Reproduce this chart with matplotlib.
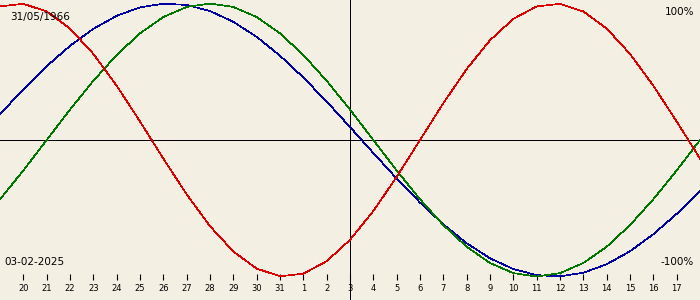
import matplotlib
matplotlib.use("Agg")
import matplotlib.pyplot as plt

# biorhythm for birth 31/05/1966, centred on 03-02-2025 (Jan 19 .. Feb 18)
birth_label = "31/05/1966"
date_label = "03-02-2025"

day_index = list(range(31))
tick_pos = list(range(1, 30))
tick_labels = [str(d) for d in range(20, 32)] + [str(d) for d in range(1, 18)]

physical = [97.9, 99.8, 94.2, 81.7, 63.1, 39.8, 13.6, -13.6, -39.8, -63.1,
            -81.7, -94.2, -99.8, -97.9, -88.8, -73.1, -52.0, -27.0, 0.0, 27.0,
            52.0, 73.1, 88.8, 97.9, 99.8, 94.2, 81.7, 63.1, 39.8, 13.6, -13.6]
emotional = [-43.4, -22.3, 0.0, 22.3, 43.4, 62.3, 78.2, 90.1, 97.5, 100.0,
             97.5, 90.1, 78.2, 62.3, 43.4, 22.3, 0.0, -22.3, -43.4, -62.3,
             -78.2, -90.1, -97.5, -100.0, -97.5, -90.1, -78.2, -62.3, -43.4, -22.3, 0.0]
intellectual = [18.9, 37.2, 54.1, 69.0, 81.5, 91.0, 97.2, 99.9, 99.0, 94.5,
                86.6, 75.6, 61.8, 45.8, 28.2, 9.5, -9.5, -28.2, -45.8, -61.8,
                -75.6, -86.6, -94.5, -99.0, -99.9, -97.2, -91.0, -81.5, -69.0, -54.1, -37.2]

BG = "#f3efe3"
LW = 0.6  # about one pixel at 100 dpi

fig = plt.figure(figsize=(7, 3), dpi=100, facecolor=BG)
ax = fig.add_axes([0, 0, 1, 1], facecolor=BG)
ax.set_xlim(0, 30)
ax.set_ylim(-117.2, 102.6)

# axes cross
ax.axhline(0, color="black", lw=LW, antialiased=False, zorder=1)
ax.axvline(15, color="black", lw=LW, antialiased=False, zorder=1)

ax.plot(day_index, intellectual, color="#0000a0", lw=0.5, antialiased=False, zorder=2)
ax.plot(day_index, emotional, color="#007800", lw=0.5, antialiased=False, zorder=2)
ax.plot(day_index, physical, color="#dc0000", lw=0.5, antialiased=False, zorder=3)

# day ticks hang off an invisible spine
for side in ["top", "right", "left"]:
    ax.spines[side].set_visible(False)
ax.spines["bottom"].set_position(("data", -98.2))
ax.spines["bottom"].set_visible(False)
ax.set_yticks([])
ax.set_xticks(tick_pos)
ax.set_xticklabels(tick_labels, fontsize=6, family="DejaVu Sans")
ax.tick_params(axis="x", direction="out", length=4.5, width=0.8, pad=3, colors="black")

ax.text(10, 300 - 17, birth_label, transform=None, fontsize=7.5, va="center", ha="left")
ax.text(4, 300 - 262, date_label, transform=None, fontsize=7.5, va="center", ha="left")
ax.text(694, 300 - 12, "100%", transform=None, fontsize=7.5, va="center", ha="right")
ax.text(694, 300 - 262, "-100%", transform=None, fontsize=7.5, va="center", ha="right")

fig.savefig("out.png", dpi=100, facecolor=BG)
